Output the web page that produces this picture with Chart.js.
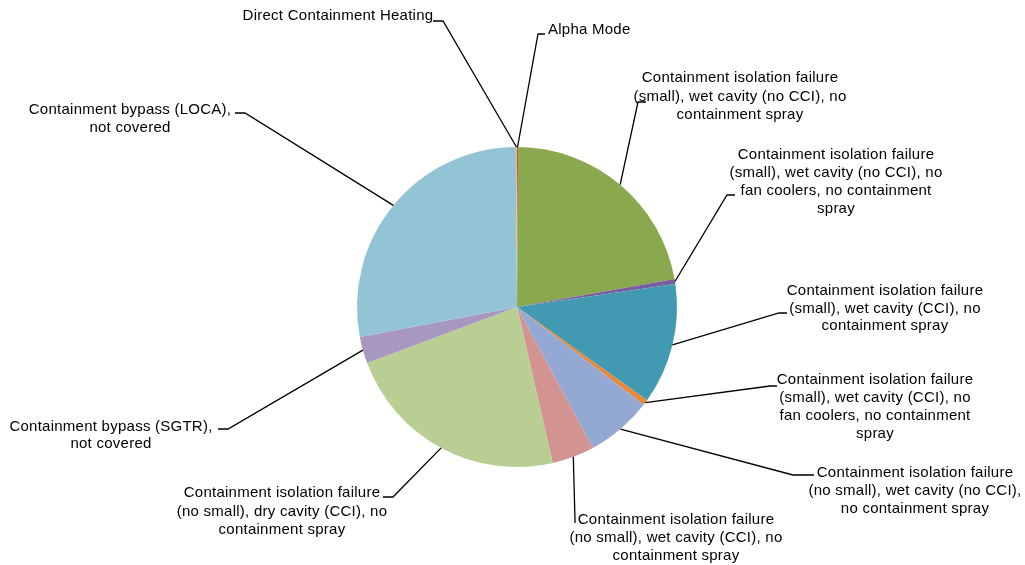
<!DOCTYPE html>
<html>
<head>
<meta charset="utf-8">
<script src="https://cdn.jsdelivr.net/npm/chart.js@4/dist/chart.umd.min.js"></script>
<style>
  body { margin: 0; background: #fff; }
  #wrap { width: 1025px; height: 565px; }
</style>
</head>
<body>
<div id="wrap"><canvas id="pieChart" width="1025" height="565"></canvas></div>
<script>
// categories, clockwise from 12 o'clock
const categories = [
  ['Alpha Mode'],
  ['Containment isolation failure', '(small), wet cavity (no CCI), no', 'containment spray'],
  ['Containment isolation failure', '(small), wet cavity (no CCI), no', 'fan coolers, no containment', 'spray'],
  ['Containment isolation failure', '(small), wet cavity (CCI), no', 'containment spray'],
  ['Containment isolation failure', '(small), wet cavity (CCI), no', 'fan coolers, no containment', 'spray'],
  ['Containment isolation failure', '(no small), wet cavity (no CCI),', 'no containment spray'],
  ['Containment isolation failure', '(no small), wet cavity (CCI), no', 'containment spray'],
  ['Containment isolation failure', '(no small), dry cavity (CCI), no', 'containment spray'],
  ['Containment bypass (SGTR),', 'not covered'],
  ['Containment bypass (LOCA),', 'not covered'],
  ['Direct Containment Heating']
];

// share of each category (%)
const shares = [0.11, 22.1, 0.5, 12.2, 0.58, 6.67, 4.28, 22.9, 2.7, 27.9, 0.11];

const sliceColors = ['#C0504D', '#8AA84E', '#7A5F9E', '#4299B2', '#E8883A', '#93A9D3',
                     '#D39391', '#B8CE92', '#A898C0', '#92C4D6', '#F5B282'];

// where each label sits and where its leader line starts (tick from -> to)
const labelLayout = [
  { x: 548, y: 30, lh: 18, align: 'left', tick: [545, 34, 538, 34] },
  { x: 740, y: 78, lh: 18.5, align: 'center', tick: [646, 102, 638, 102] },
  { x: 836, y: 155, lh: 18, align: 'center', tick: [735, 195, 727, 195] },
  { x: 885, y: 291, lh: 17.5, align: 'center', tick: [787, 313, 779, 313] },
  { x: 875, y: 380, lh: 18, align: 'center', tick: [777, 386, 770, 386] },
  { x: 915, y: 473, lh: 18, align: 'center', tick: [814, 475, 793, 475] },
  { x: 676, y: 520, lh: 18, align: 'center', tick: [575, 523, 575, 520] },
  { x: 282, y: 493, lh: 18.5, align: 'center', tick: [383, 497, 393, 497] },
  { x: 111, y: 427, lh: 16.5, align: 'center', tick: [218, 429, 228, 429] },
  { x: 130, y: 110, lh: 18, align: 'center', tick: [235, 113, 245, 113] },
  { x: 338, y: 16, lh: 18, align: 'center', tick: [433, 21, 443, 21] }
];

const leaderLabels = {
  id: 'leaderLabels',
  afterDraw(chart) {
    const ctx = chart.ctx;
    const arcs = chart.getDatasetMeta(0).data;
    ctx.save();
    ctx.font = '15px "Liberation Sans", Arial, sans-serif';
    ctx.letterSpacing = '0.25px';
    ctx.fillStyle = '#000';
    ctx.strokeStyle = '#000';
    ctx.lineWidth = 1.3;
    ctx.textBaseline = 'middle';
    arcs.forEach((arc, i) => {
      const p = arc.getProps(['x', 'y', 'startAngle', 'endAngle', 'outerRadius'], true);
      const mid = (p.startAngle + p.endAngle) / 2;
      const ex = p.x + Math.cos(mid) * p.outerRadius;
      const ey = p.y + Math.sin(mid) * p.outerRadius;
      const L = labelLayout[i];
      const t = L.tick;
      ctx.beginPath();
      ctx.moveTo(t[0], t[1]);
      ctx.lineTo(t[2], t[3]);
      ctx.lineTo(ex, ey);
      ctx.stroke();
      ctx.textAlign = L.align;
      categories[i].forEach((line, k) => {
        ctx.fillText(line, L.x, L.y + k * L.lh);
      });
    });
    ctx.restore();
  }
};

new Chart(document.getElementById('pieChart').getContext('2d'), {
  type: 'pie',
  data: {
    labels: categories.map(c => c.join(' ')),
    datasets: [{
      data: shares,
      backgroundColor: sliceColors,
      borderWidth: 0
    }]
  },
  options: {
    responsive: false,
    animation: false,
    layout: { padding: { left: 357, right: 348, top: 147, bottom: 98 } },
    plugins: {
      legend: { display: false },
      tooltip: { enabled: false }
    }
  },
  plugins: [leaderLabels]
});
</script>
</body>
</html>
